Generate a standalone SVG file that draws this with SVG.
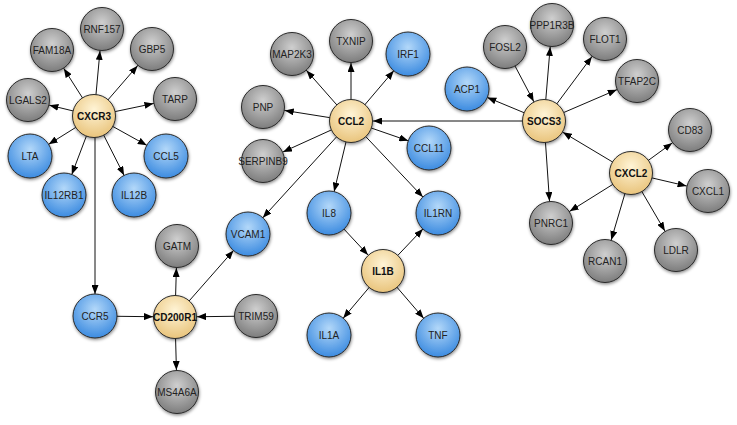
<svg xmlns="http://www.w3.org/2000/svg" width="737" height="425" viewBox="0 0 737 425">
<style>
.e{stroke:#111;stroke-width:1;fill:none;marker-end:url(#arr)}
.n circle{stroke:#2a2a2a;stroke-width:1;filter:url(#sh)}
.g circle{fill:url(#gg)}
.b circle{fill:url(#gb)}
.y circle{fill:url(#gy)}
.n text{font-family:"Liberation Sans",Arial,sans-serif;font-size:10px;fill:#222;text-anchor:middle}
.y text{font-weight:bold;fill:#111}
</style>
<defs>
<radialGradient id="gg" cx="50%" cy="35%" r="65%"><stop offset="0" stop-color="#cfcfcf"/><stop offset="1" stop-color="#7d7d7d"/></radialGradient>
<radialGradient id="gb" cx="50%" cy="35%" r="65%"><stop offset="0" stop-color="#b3d8f9"/><stop offset="1" stop-color="#3c8be0"/></radialGradient>
<radialGradient id="gy" cx="50%" cy="35%" r="65%"><stop offset="0" stop-color="#fff4d6"/><stop offset="1" stop-color="#e9c47c"/></radialGradient>
<filter id="sh" x="-30%" y="-30%" width="160%" height="170%"><feDropShadow dx="0.5" dy="1.5" stdDeviation="1.5" flood-color="#000" flood-opacity="0.45"/></filter>
<marker id="arr" markerUnits="userSpaceOnUse" markerWidth="9" markerHeight="7" refX="31" refY="3.5" orient="auto"><path d="M0,0 L9,3.5 L0,7 z" fill="#000"/></marker>
</defs>
<g id="connectors">
<line class="e" x1="94" y1="116" x2="102" y2="29"/>
<line class="e" x1="94" y1="116" x2="52" y2="50"/>
<line class="e" x1="94" y1="116" x2="152" y2="49"/>
<line class="e" x1="94" y1="116" x2="28" y2="100"/>
<line class="e" x1="94" y1="116" x2="175" y2="99"/>
<line class="e" x1="94" y1="116" x2="30" y2="156"/>
<line class="e" x1="94" y1="116" x2="166" y2="156"/>
<line class="e" x1="94" y1="116" x2="64" y2="195"/>
<line class="e" x1="94" y1="116" x2="134" y2="195"/>
<line class="e" x1="95" y1="116" x2="95" y2="316"/>
<line class="e" x1="95" y1="316" x2="175" y2="317"/>
<line class="e" x1="256" y1="316" x2="175" y2="317"/>
<line class="e" x1="175" y1="317" x2="177" y2="246"/>
<line class="e" x1="175" y1="317" x2="177" y2="392"/>
<line class="e" x1="175" y1="317" x2="248" y2="234"/>
<line class="e" x1="351" y1="121" x2="248" y2="234"/>
<line class="e" x1="351" y1="121" x2="292" y2="54"/>
<line class="e" x1="351" y1="121" x2="351" y2="41"/>
<line class="e" x1="351" y1="121" x2="408" y2="54"/>
<line class="e" x1="351" y1="121" x2="263" y2="107"/>
<line class="e" x1="351" y1="121" x2="263" y2="161"/>
<line class="e" x1="351" y1="121" x2="429" y2="148"/>
<line class="e" x1="351" y1="121" x2="329" y2="213"/>
<line class="e" x1="351" y1="121" x2="438" y2="213"/>
<line class="e" x1="329" y1="213" x2="383" y2="271"/>
<line class="e" x1="383" y1="271" x2="438" y2="213"/>
<line class="e" x1="383" y1="271" x2="329" y2="335"/>
<line class="e" x1="383" y1="271" x2="438" y2="335"/>
<line class="e" x1="544" y1="121" x2="351" y2="121"/>
<line class="e" x1="544" y1="121" x2="467" y2="89"/>
<line class="e" x1="505" y1="47" x2="544" y2="121"/>
<line class="e" x1="544" y1="121" x2="552" y2="25"/>
<line class="e" x1="544" y1="121" x2="605" y2="39"/>
<line class="e" x1="544" y1="121" x2="637" y2="81"/>
<line class="e" x1="544" y1="121" x2="551" y2="223"/>
<line class="e" x1="631" y1="173" x2="544" y2="121"/>
<line class="e" x1="631" y1="173" x2="690" y2="130"/>
<line class="e" x1="631" y1="173" x2="708" y2="191"/>
<line class="e" x1="631" y1="173" x2="676" y2="250"/>
<line class="e" x1="631" y1="173" x2="605" y2="261"/>
<line class="e" x1="631" y1="173" x2="551" y2="223"/>
</g>
<g id="CXCR3" class="n y"><circle cx="94" cy="116" r="21.5"/><text x="94" y="119.5">CXCR3</text></g>
<g id="RNF157" class="n g"><circle cx="102" cy="29" r="21.5"/><text x="102" y="32.5">RNF157</text></g>
<g id="FAM18A" class="n g"><circle cx="52" cy="50" r="21.5"/><text x="52" y="53.5">FAM18A</text></g>
<g id="GBP5" class="n g"><circle cx="152" cy="49" r="21.5"/><text x="152" y="52.5">GBP5</text></g>
<g id="LGALS2" class="n g"><circle cx="28" cy="100" r="21.5"/><text x="28" y="103.5">LGALS2</text></g>
<g id="TARP" class="n g"><circle cx="175" cy="99" r="21.5"/><text x="175" y="102.5">TARP</text></g>
<g id="LTA" class="n b"><circle cx="30" cy="156" r="22"/><text x="30" y="159.5">LTA</text></g>
<g id="CCL5" class="n b"><circle cx="166" cy="156" r="22"/><text x="166" y="159.5">CCL5</text></g>
<g id="IL12RB1" class="n b"><circle cx="64" cy="195" r="22"/><text x="64" y="198.5">IL12RB1</text></g>
<g id="IL12B" class="n b"><circle cx="134" cy="195" r="22"/><text x="134" y="198.5">IL12B</text></g>
<g id="CCR5" class="n b"><circle cx="95" cy="316" r="22"/><text x="95" y="319.5">CCR5</text></g>
<g id="CD200R1" class="n y"><circle cx="175" cy="317" r="21.5"/><text x="175" y="320.5">CD200R1</text></g>
<g id="GATM" class="n g"><circle cx="177" cy="246" r="21.5"/><text x="177" y="249.5">GATM</text></g>
<g id="TRIM59" class="n g"><circle cx="256" cy="316" r="21.5"/><text x="256" y="319.5">TRIM59</text></g>
<g id="MS4A6A" class="n g"><circle cx="177" cy="392" r="21.5"/><text x="177" y="395.5">MS4A6A</text></g>
<g id="VCAM1" class="n b"><circle cx="248" cy="234" r="22"/><text x="248" y="237.5">VCAM1</text></g>
<g id="CCL2" class="n y"><circle cx="351" cy="121" r="21.5"/><text x="351" y="124.5">CCL2</text></g>
<g id="MAP2K3" class="n g"><circle cx="292" cy="54" r="21.5"/><text x="292" y="57.5">MAP2K3</text></g>
<g id="TXNIP" class="n g"><circle cx="351" cy="41" r="21.5"/><text x="351" y="44.5">TXNIP</text></g>
<g id="IRF1" class="n b"><circle cx="408" cy="54" r="22"/><text x="408" y="57.5">IRF1</text></g>
<g id="PNP" class="n g"><circle cx="263" cy="107" r="21.5"/><text x="263" y="110.5">PNP</text></g>
<g id="SERPINB9" class="n g"><circle cx="263" cy="161" r="21.5"/><text x="263" y="164.5">SERPINB9</text></g>
<g id="CCL11" class="n b"><circle cx="429" cy="148" r="22"/><text x="429" y="151.5">CCL11</text></g>
<g id="IL8" class="n b"><circle cx="329" cy="213" r="22"/><text x="329" y="216.5">IL8</text></g>
<g id="IL1RN" class="n b"><circle cx="438" cy="213" r="22"/><text x="438" y="216.5">IL1RN</text></g>
<g id="IL1B" class="n y"><circle cx="383" cy="271" r="21.5"/><text x="383" y="274.5">IL1B</text></g>
<g id="IL1A" class="n b"><circle cx="329" cy="335" r="22"/><text x="329" y="338.5">IL1A</text></g>
<g id="TNF" class="n b"><circle cx="438" cy="335" r="22"/><text x="438" y="338.5">TNF</text></g>
<g id="SOCS3" class="n y"><circle cx="544" cy="121" r="21.5"/><text x="544" y="124.5">SOCS3</text></g>
<g id="ACP1" class="n b"><circle cx="467" cy="89" r="22"/><text x="467" y="92.5">ACP1</text></g>
<g id="FOSL2" class="n g"><circle cx="505" cy="47" r="21.5"/><text x="505" y="50.5">FOSL2</text></g>
<g id="PPP1R3B" class="n g"><circle cx="552" cy="25" r="21.5"/><text x="552" y="28.5">PPP1R3B</text></g>
<g id="FLOT1" class="n g"><circle cx="605" cy="39" r="21.5"/><text x="605" y="42.5">FLOT1</text></g>
<g id="TFAP2C" class="n g"><circle cx="637" cy="81" r="21.5"/><text x="637" y="84.5">TFAP2C</text></g>
<g id="CD83" class="n g"><circle cx="690" cy="130" r="21.5"/><text x="690" y="133.5">CD83</text></g>
<g id="CXCL2" class="n y"><circle cx="631" cy="173" r="21.5"/><text x="631" y="176.5">CXCL2</text></g>
<g id="CXCL1" class="n g"><circle cx="708" cy="191" r="21.5"/><text x="708" y="194.5">CXCL1</text></g>
<g id="PNRC1" class="n g"><circle cx="551" cy="223" r="21.5"/><text x="551" y="226.5">PNRC1</text></g>
<g id="RCAN1" class="n g"><circle cx="605" cy="261" r="21.5"/><text x="605" y="264.5">RCAN1</text></g>
<g id="LDLR" class="n g"><circle cx="676" cy="250" r="21.5"/><text x="676" y="253.5">LDLR</text></g>
</svg>
